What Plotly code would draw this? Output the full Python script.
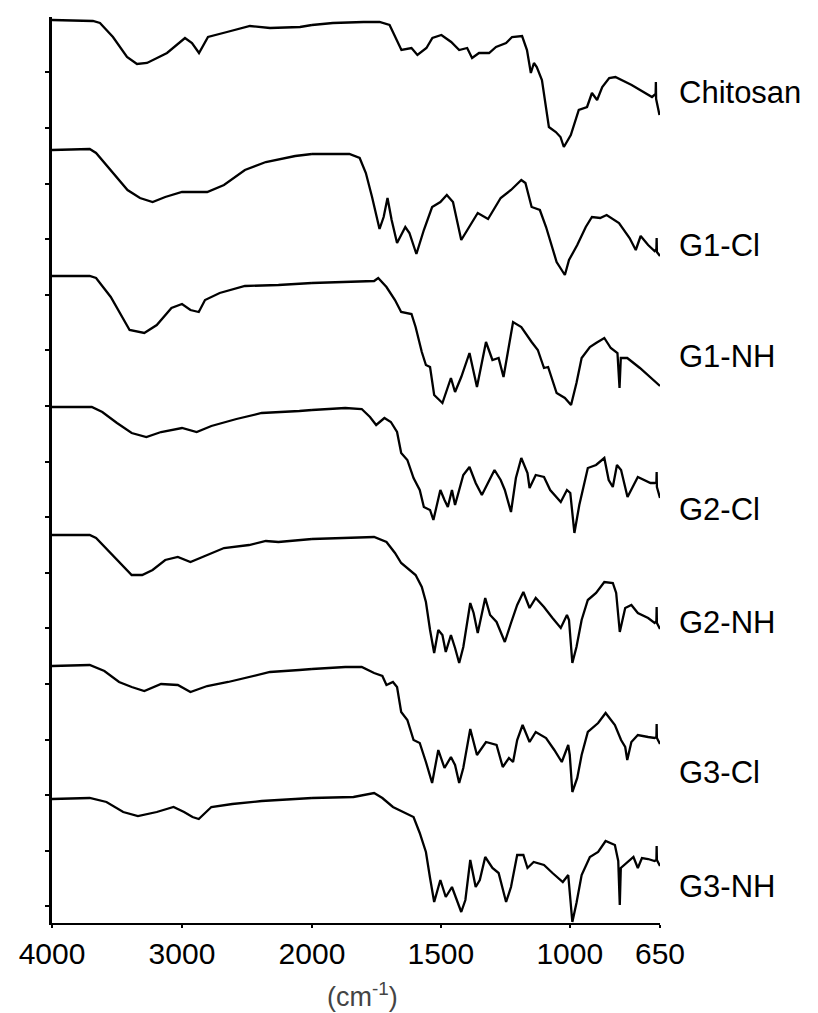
import plotly.graph_objects as go

# x-axis: two-scale wavenumber axis (cm-1), break at 2000
TICKS_HIGH = [4000, 3000, 2000]
TICKS_LOW = [1500, 1000, 650]
BREAK_WN = 2000

SAMPLE_NAMES = ["Chitosan", "G1-Cl", "G1-NH", "G2-Cl", "G2-NH", "G3-Cl", "G3-NH"]
LABEL_LEVELS = [831, 678, 567, 414, 301, 151, 37]

# (wavenumber, stacked transmittance in arbitrary units)
chitosan = [(4000, 903), (3685, 902), (3631, 900), (3531, 886), (3423, 866), (3346, 859), (3269, 860),
            (3115, 870), (2977, 885), (2923, 880), (2869, 870), (2800, 886), (2654, 891), (2477, 897),
            (2323, 895), (2092, 896), (2000, 898), (1919, 900), (1800, 901), (1738, 901), (1699, 898),
            (1672, 883), (1653, 873), (1614, 875), (1591, 868), (1556, 875), (1533, 885), (1498, 888),
            (1460, 881), (1429, 873), (1398, 875), (1379, 865), (1352, 870), (1313, 870), (1286, 876),
            (1247, 880), (1224, 886), (1185, 887), (1166, 873), (1151, 850), (1139, 860), (1128, 856),
            (1108, 843), (1081, 796), (1054, 791), (1036, 786), (1023, 776), (996, 788), (965, 813),
            (933, 816), (914, 830), (894, 823), (874, 836), (847, 845), (823, 846), (760, 838),
            (681, 826), (667, 829), (666, 841), (665, 824), (652, 808)]

g1_cl = [(4000, 773), (3710, 774), (3661, 770), (3548, 753), (3419, 733), (3323, 725), (3226, 721),
         (3129, 726), (3000, 731), (2806, 731), (2677, 738), (2516, 753), (2355, 761), (2129, 767),
         (2000, 769), (1855, 769), (1815, 765), (1791, 750), (1767, 726), (1738, 694), (1722, 706),
         (1707, 725), (1691, 703), (1670, 680), (1638, 696), (1622, 690), (1595, 669), (1566, 693),
         (1534, 716), (1502, 721), (1477, 728), (1453, 721), (1421, 683), (1397, 693), (1357, 710),
         (1317, 704), (1268, 725), (1228, 733), (1188, 743), (1172, 740), (1148, 716), (1116, 713),
         (1092, 696), (1051, 661), (1019, 648), (1003, 663), (971, 678), (938, 696), (914, 706),
         (882, 705), (857, 708), (809, 700), (768, 685), (744, 673), (725, 687), (696, 678),
         (671, 672), (664, 674), (663, 685), (662, 671), (650, 667)]

g1_nh = [(4000, 647), (3710, 647), (3661, 645), (3548, 626), (3403, 593), (3290, 590), (3194, 598),
         (3081, 615), (3000, 619), (2935, 613), (2871, 611), (2823, 623), (2710, 630), (2516, 637),
         (2258, 638), (2000, 640), (1759, 642), (1743, 645), (1711, 636), (1678, 623), (1654, 611),
         (1614, 609), (1598, 596), (1574, 571), (1558, 558), (1542, 556), (1526, 528), (1494, 520),
         (1461, 545), (1445, 531), (1421, 546), (1389, 570), (1360, 536), (1325, 581), (1300, 563),
         (1276, 565), (1257, 546), (1220, 601), (1188, 596), (1148, 581), (1124, 573), (1100, 555),
         (1084, 556), (1051, 530), (1019, 525), (995, 518), (974, 540), (954, 565), (922, 576),
         (898, 580), (866, 585), (841, 575), (815, 570), (807, 535), (802, 565), (777, 565),
         (728, 555), (650, 537)]

g2_cl = [(4000, 516), (3694, 516), (3613, 511), (3500, 500), (3387, 490), (3274, 486), (3161, 491),
         (3000, 495), (2887, 491), (2774, 497), (2581, 504), (2387, 510), (2097, 512), (2000, 513),
         (1871, 515), (1807, 514), (1775, 506), (1751, 498), (1719, 505), (1694, 501), (1670, 491),
         (1654, 470), (1630, 463), (1606, 445), (1582, 433), (1566, 416), (1542, 413), (1529, 403),
         (1502, 433), (1486, 423), (1473, 416), (1457, 433), (1445, 418), (1429, 433), (1413, 448),
         (1389, 456), (1365, 440), (1341, 428), (1317, 441), (1292, 453), (1268, 443), (1252, 433),
         (1228, 411), (1209, 445), (1188, 465), (1164, 450), (1156, 435), (1132, 448), (1100, 446),
         (1076, 433), (1035, 421), (1011, 433), (998, 430), (982, 390), (963, 418), (930, 455),
         (898, 458), (866, 465), (849, 443), (833, 436), (817, 458), (801, 453), (776, 426),
         (736, 446), (687, 440), (671, 440), (664, 441), (663, 451), (662, 436), (650, 425)]

g2_nh = [(4000, 388), (3710, 388), (3661, 385), (3548, 370), (3387, 348), (3306, 348), (3226, 353),
         (3129, 363), (3032, 366), (2935, 361), (2839, 366), (2677, 375), (2484, 378), (2355, 382),
         (2258, 381), (2000, 384), (1759, 386), (1711, 381), (1678, 370), (1654, 360), (1598, 348),
         (1574, 336), (1558, 321), (1542, 293), (1526, 270), (1510, 293), (1494, 288), (1481, 271),
         (1461, 288), (1445, 275), (1429, 260), (1413, 276), (1386, 320), (1373, 310), (1357, 290),
         (1328, 325), (1309, 308), (1284, 301), (1252, 281), (1228, 300), (1204, 318), (1180, 331),
         (1156, 315), (1132, 325), (1100, 316), (1067, 305), (1035, 295), (1011, 308), (1003, 303),
         (990, 260), (974, 276), (954, 303), (930, 323), (898, 330), (866, 341), (833, 340),
         (820, 330), (806, 291), (785, 315), (761, 318), (736, 310), (696, 305), (671, 300),
         (664, 302), (663, 316), (662, 300), (650, 294)]

g3_cl = [(4000, 257), (3710, 258), (3597, 252), (3484, 241), (3387, 236), (3290, 232), (3161, 239),
         (3032, 238), (2935, 231), (2806, 237), (2645, 241), (2452, 247), (2323, 251), (2097, 253),
         (2000, 254), (1871, 256), (1807, 256), (1759, 250), (1727, 247), (1711, 238), (1686, 241),
         (1670, 236), (1654, 211), (1630, 203), (1606, 183), (1582, 180), (1558, 161), (1534, 140),
         (1510, 173), (1486, 155), (1461, 166), (1445, 158), (1429, 140), (1413, 155), (1386, 194),
         (1360, 168), (1325, 181), (1284, 178), (1260, 156), (1236, 165), (1220, 161), (1204, 183),
         (1183, 198), (1156, 181), (1132, 191), (1092, 185), (1060, 173), (1031, 161), (1006, 178),
         (1000, 168), (990, 131), (971, 145), (954, 168), (930, 191), (890, 200), (861, 210),
         (825, 198), (801, 183), (785, 176), (777, 163), (761, 181), (736, 188), (696, 186),
         (671, 185), (664, 186), (663, 199), (662, 185), (650, 179)]

g3_nh = [(4000, 124), (3710, 125), (3581, 121), (3452, 111), (3339, 107), (3194, 111), (3065, 116),
         (2984, 111), (2919, 106), (2871, 104), (2774, 116), (2613, 119), (2387, 122), (2097, 124),
         (2000, 125), (1839, 126), (1759, 130), (1727, 125), (1686, 116), (1646, 111), (1606, 106),
         (1582, 90), (1558, 71), (1542, 45), (1526, 21), (1502, 43), (1481, 26), (1457, 36),
         (1445, 28), (1421, 11), (1405, 23), (1386, 63), (1365, 36), (1349, 43), (1328, 66),
         (1300, 55), (1276, 50), (1247, 21), (1228, 36), (1204, 68), (1180, 68), (1164, 55),
         (1140, 61), (1100, 58), (1067, 50), (1027, 41), (1006, 48), (998, 28), (990, 1),
         (974, 20), (954, 48), (922, 66), (890, 71), (861, 82), (825, 78), (812, 62), (806, 18),
         (802, 55), (777, 61), (753, 66), (736, 55), (720, 65), (696, 64), (671, 62), (664, 63),
         (663, 77), (662, 63), (650, 57)]

SPECTRA = [chitosan, g1_cl, g1_nh, g2_cl, g2_nh, g3_cl, g3_nh]

SPLIT = 0.4276  # share of plot width for 4000-2000

fig = go.Figure()
line_style = dict(color="black", width=2.3)
for name, spec in zip(SAMPLE_NAMES, SPECTRA):
    hi = [p for p in spec if p[0] >= BREAK_WN]
    lo = [p for p in spec if p[0] <= BREAK_WN]
    fig.add_trace(go.Scatter(x=[p[0] for p in hi], y=[p[1] for p in hi], mode="lines",
                             line=line_style, name=name, showlegend=False,
                             xaxis="x", yaxis="y", hoverinfo="skip"))
    fig.add_trace(go.Scatter(x=[p[0] for p in lo], y=[p[1] for p in lo], mode="lines",
                             line=line_style, name=name, showlegend=False,
                             xaxis="x2", yaxis="y", hoverinfo="skip"))

FONT = "Liberation Sans, Arial, sans-serif"

annotations = []
for name, lvl in zip(SAMPLE_NAMES, LABEL_LEVELS):
    annotations.append(dict(text=name, xref="paper", yref="y", x=1.028, y=lvl,
                            xanchor="left", yanchor="middle", showarrow=False,
                            font=dict(family=FONT, size=31, color="black")))
annotations.append(dict(text="(cm<sup>-1</sup>)", xref="paper", yref="paper",
                        x=0.5115, y=-0.0795, xanchor="center", yanchor="middle",
                        showarrow=False, font=dict(family=FONT, size=27, color="#444444")))

xcommon = dict(showline=True, linecolor="black", linewidth=2, ticks="outside",
               ticklen=3, tickwidth=2, tickcolor="black", showgrid=False, zeroline=False,
               tickfont=dict(family=FONT, size=30, color="black"), anchor="y")

# the page body adds an 8px offset, so the figure is 8px smaller with an 8px smaller left/top margin
fig.update_layout(
    width=810, height=1005,
    margin=dict(l=44, r=158, t=9, b=90),
    paper_bgcolor="white", plot_bgcolor="white",
    xaxis=dict(domain=[0, SPLIT], range=[4000, BREAK_WN], tickmode="array",
               tickvals=TICKS_HIGH, ticktext=[str(t) for t in TICKS_HIGH], **xcommon),
    xaxis2=dict(domain=[SPLIT, 1], range=[BREAK_WN, 650], tickmode="array",
                tickvals=TICKS_LOW, ticktext=[str(t) for t in TICKS_LOW], **xcommon),
    yaxis=dict(range=[0, 906], showline=True, linecolor="black", linewidth=3,
               ticks="outside", ticklen=4, tickwidth=2, tickcolor="black",
               tick0=16.7, dtick=55.6, showticklabels=False, showgrid=False, zeroline=False),
    annotations=annotations,
)

fig.write_html("out.html")
